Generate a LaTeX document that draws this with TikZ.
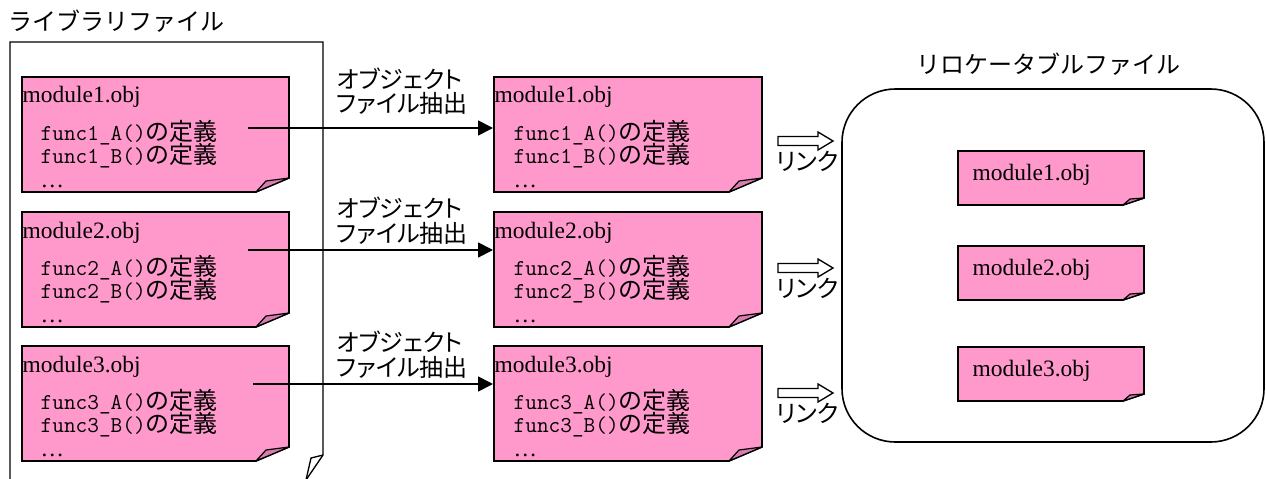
\documentclass[tikz,border=0pt]{standalone}
\usepackage{fontspec}
\setmainfont{Liberation Serif}
\newfontfamily\jpfont{Noto Sans CJK JP}
\newfontfamily\jpprop[RawFeature=+palt]{Noto Sans CJK JP}
\newcommand\monofn{\ttfamily\fontsize{17}{24}\selectfont}
\usetikzlibrary{arrows.meta}
\definecolor{notepink}{HTML}{FF99CC}
\definecolor{flappink}{HTML}{D97DB0}

\tikzset{every picture/.style={line width=1pt}}
\tikzset{
  notebody/.style={draw=black,fill=notepink,line width=1.2pt,line join=miter},
  noteflap/.style={draw=black,fill=flappink,line width=0.9pt,line join=round},
  libpage/.style={draw=black,line width=1pt},
  jptext/.style={font=\jpfont\fontsize{18}{24}\selectfont,inner sep=0pt,anchor=base west},
  proptext/.style={font=\jpprop\fontsize{18}{24}\selectfont,inner sep=0pt,anchor=base west},
  objtext/.style={font=\fontsize{17.6}{20}\selectfont,inner sep=0pt,anchor=base west},
  deftext/.style={font=\jpfont\fontsize{18}{24}\selectfont,inner sep=0pt,anchor=base west},
  dottext/.style={font=\fontsize{17.6}{20}\selectfont,inner sep=0pt,anchor=base west},
  extract/.style={-{Triangle[length=11.25pt,width=11.25pt]},line width=1.3pt},
  linkarrow/.style={draw=black,fill=white,line width=1pt,line join=miter}
}

\begin{document}
\begin{tikzpicture}[x=0.75pt,y=0.75pt,yscale=-1,xscale=1]
\useasboundingbox (0,0) rectangle (1266,478);

%Shape: Library page [id:libpage]
\draw[libpage] (10,482) -- (10,42) -- (323,42) -- (323,455) -- (306,480) ;
\draw[libpage,line join=round] (323,455) -- (311,458) -- (306,480) ;
% Text Node
\node[jptext] (libtitle) at (8,31) {ライブラリファイル};

%Shape: Note [id:lib1]
\draw[notebody] (22,77) -- (289,77) -- (289,178) -- (256,192) -- (22,192) -- cycle ;
\draw[noteflap] (256,192) -- (266,181) -- (289,178) -- cycle ;
%Shape: Note [id:lib2]
\draw[notebody] (22,212) -- (289,212) -- (289,313) -- (256,327) -- (22,327) -- cycle ;
\draw[noteflap] (256,327) -- (266,316) -- (289,313) -- cycle ;
%Shape: Note [id:lib3]
\draw[notebody] (22,346) -- (289,346) -- (289,447) -- (256,461) -- (22,461) -- cycle ;
\draw[noteflap] (256,461) -- (266,450) -- (289,447) -- cycle ;

%Shape: Note [id:obj1]
\draw[notebody] (494,77) -- (762,77) -- (762,178) -- (729,192) -- (494,192) -- cycle ;
\draw[noteflap] (729,192) -- (739,181) -- (762,178) -- cycle ;
%Shape: Note [id:obj2]
\draw[notebody] (494,212) -- (762,212) -- (762,313) -- (729,327) -- (494,327) -- cycle ;
\draw[noteflap] (729,327) -- (739,316) -- (762,313) -- cycle ;
%Shape: Note [id:obj3]
\draw[notebody] (494,346) -- (762,346) -- (762,447) -- (729,461) -- (494,461) -- cycle ;
\draw[noteflap] (729,461) -- (739,450) -- (762,447) -- cycle ;

% Text Node
\node[objtext] (lib1name) at (22,103) {module1.obj};
\node[deftext] (lib1a) at (40,140) {{\monofn func1\_A()}の定義};
\node[deftext] (lib1b) at (40,163) {{\monofn func1\_B()}の定義};
\node[dottext] (lib1c) at (40,187) {…};
% Text Node
\node[objtext] (lib2name) at (22,238) {module2.obj};
\node[deftext] (lib2a) at (40,275) {{\monofn func2\_A()}の定義};
\node[deftext] (lib2b) at (40,298) {{\monofn func2\_B()}の定義};
\node[dottext] (lib2c) at (40,322) {…};
% Text Node
\node[objtext] (lib3name) at (22,372) {module3.obj};
\node[deftext] (lib3a) at (40,409) {{\monofn func3\_A()}の定義};
\node[deftext] (lib3b) at (40,432) {{\monofn func3\_B()}の定義};
\node[dottext] (lib3c) at (40,456) {…};

% Text Node
\node[objtext] (obj1name) at (494,103) {module1.obj};
\node[deftext] (obj1a) at (513,140) {{\monofn func1\_A()}の定義};
\node[deftext] (obj1b) at (513,163) {{\monofn func1\_B()}の定義};
\node[dottext] (obj1c) at (513,187) {…};
% Text Node
\node[objtext] (obj2name) at (494,238) {module2.obj};
\node[deftext] (obj2a) at (513,275) {{\monofn func2\_A()}の定義};
\node[deftext] (obj2b) at (513,298) {{\monofn func2\_B()}の定義};
\node[dottext] (obj2c) at (513,322) {…};
% Text Node
\node[objtext] (obj3name) at (494,372) {module3.obj};
\node[deftext] (obj3a) at (513,409) {{\monofn func3\_A()}の定義};
\node[deftext] (obj3b) at (513,432) {{\monofn func3\_B()}の定義};
\node[dottext] (obj3c) at (513,456) {…};

%Straight Lines [id:extract1]
\coordinate (ex1s) at (248,128);
\coordinate (ex1e) at (493,128);
\draw[extract] (ex1s) -- (ex1e) ;
%Straight Lines [id:extract2]
\coordinate (ex2s) at (248,250);
\coordinate (ex2e) at (493,250);
\draw[extract] (ex2s) -- (ex2e) ;
%Straight Lines [id:extract3]
\coordinate (ex3s) at (253,384);
\coordinate (ex3e) at (493,384);
\draw[extract] (ex3s) -- (ex3e) ;

% Text Node
\node[proptext] (ex1top) at (336,89) {オブジェクト};
\node[proptext] (ex1bot) at (336,112) {ファイル抽出};
\node[proptext] (ex2top) at (336,217) {オブジェクト};
\node[proptext] (ex2bot) at (336,242) {ファイル抽出};
\node[proptext] (ex3top) at (336,351) {オブジェクト};
\node[proptext] (ex3bot) at (336,376) {ファイル抽出};

%Shape: Block Arrow [id:link1]
\draw[linkarrow] (778,136.5) -- (818,136.5) -- (818,132) -- (833,141) -- (818,150) -- (818,145.5) -- (778,145.5) -- cycle ;
%Shape: Block Arrow [id:link2]
\draw[linkarrow] (778,263.5) -- (818,263.5) -- (818,259) -- (833,268) -- (818,277) -- (818,272.5) -- (778,272.5) -- cycle ;
%Shape: Block Arrow [id:link3]
\draw[linkarrow] (778,388.5) -- (818,388.5) -- (818,384) -- (833,393) -- (818,402) -- (818,397.5) -- (778,397.5) -- cycle ;
% Text Node
\node[proptext] (link1txt) at (776,170) {リンク};
\node[proptext] (link2txt) at (776,297) {リンク};
\node[proptext] (link3txt) at (776,422) {リンク};

%Shape: Rounded Rect [id:reloc]
\draw[line width=1.2pt,rounded corners=40pt] (842,89) rectangle (1264,442) ;
% Text Node
\node[jptext] (reloctitle) at (916,74) {リロケータブルファイル};

%Shape: Note [id:rel1]
\draw[notebody] (958,151) -- (1144,151) -- (1144,198) -- (1123,205) -- (958,205) -- cycle ;
\draw[noteflap] (1123,205) -- (1130,199) -- (1144,198) -- cycle ;
%Shape: Note [id:rel2]
\draw[notebody] (958,246) -- (1144,246) -- (1144,293) -- (1123,300) -- (958,300) -- cycle ;
\draw[noteflap] (1123,300) -- (1130,294) -- (1144,293) -- cycle ;
%Shape: Note [id:rel3]
\draw[notebody] (958,347) -- (1144,347) -- (1144,394) -- (1123,401) -- (958,401) -- cycle ;
\draw[noteflap] (1123,401) -- (1130,395) -- (1144,394) -- cycle ;
% Text Node
\node[objtext] (rel1name) at (972,180) {module1.obj};
\node[objtext] (rel2name) at (972,275) {module2.obj};
\node[objtext] (rel3name) at (972,376) {module3.obj};

\end{tikzpicture}
\end{document}
